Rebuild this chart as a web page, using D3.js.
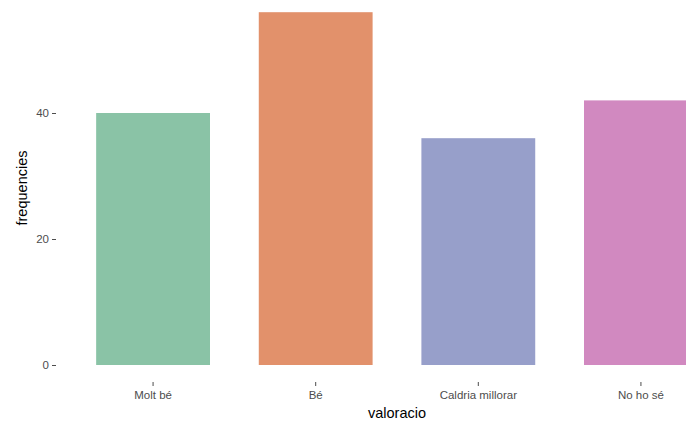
<!DOCTYPE html>
<html><head><meta charset="utf-8">
<script src="https://cdn.jsdelivr.net/npm/d3@7"></script>
<style>body{margin:0;background:#fff}svg{display:block}text{font-family:"Liberation Sans",Arial,sans-serif}</style>
</head><body><svg id="c" width="686" height="422"></svg>
<script>
const categories = ["Molt bé", "Bé", "Caldria millorar", "No ho sé"];
const frequencies = [40, 56, 36, 42];
const colors = ["#8ac3a6", "#e2916b", "#979fca", "#d189c0"];
const yTicks = [0, 20, 40];

const svg = d3.select("#c");
const x = d3.scaleBand().domain(categories).range([55.5, 738.5]).paddingInner(0.3).paddingOuter(0.25);
const y = d3.scaleLinear().domain([0, 40]).range([365, 113]);

svg.append("g").selectAll("rect").data(categories).join("rect")
  .attr("x", d => x(d)).attr("width", x.bandwidth())
  .attr("y", (d, i) => y(frequencies[i])).attr("height", (d, i) => y(0) - y(frequencies[i]))
  .attr("fill", (d, i) => colors[i]);

const ya = svg.append("g").attr("transform", "translate(56,0)")
  .call(d3.axisLeft(y).tickValues(yTicks).tickSize(4).tickPadding(3));
ya.select(".domain").remove();
ya.selectAll("line").attr("stroke", "#4d4d4d");
ya.selectAll("text").attr("fill", "#4d4d4d").style("font-size", "11.5px");

const xa = svg.append("g").attr("transform", "translate(0,382)")
  .call(d3.axisBottom(x).tickSize(4).tickPadding(5));
xa.select(".domain").remove();
xa.selectAll("line").attr("stroke", "#4d4d4d");
xa.selectAll("text").attr("fill", "#4d4d4d").style("font-size", "11.5px");

svg.append("text").attr("x", 397).attr("y", 418).attr("text-anchor", "middle")
  .style("font-size", "14.5px").attr("fill", "#000").text("valoracio");
svg.append("text").attr("transform", "translate(27,188) rotate(-90)").attr("text-anchor", "middle")
  .style("font-size", "14.5px").attr("fill", "#000").text("frequencies");
</script></body></html>
